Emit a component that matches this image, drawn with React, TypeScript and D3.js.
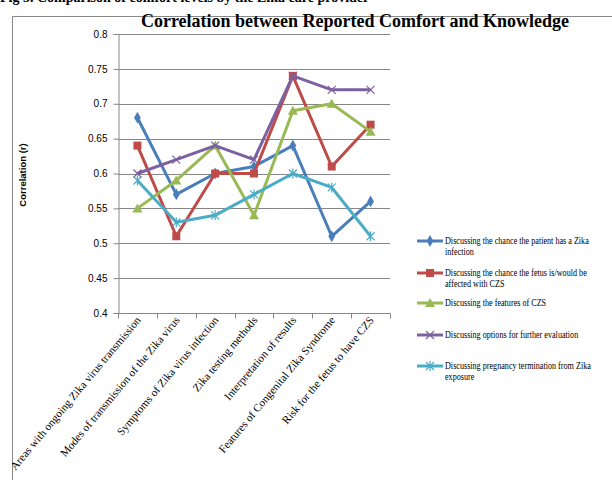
import * as d3 from 'd3';
import React, { useRef, useEffect } from 'react';

const categories = [
  'Areas with ongoing Zika virus transmission',
  'Modes of transmission of the Zika virus',
  'Symptoms of Zika virus infection',
  'Zika testing methods',
  'Interpretation of results',
  'Features of Congenital Zika Syndrome',
  'Risk for the fetus to have CZS',
];

const patientZika = [0.68, 0.57, 0.60, 0.61, 0.64, 0.51, 0.56];
const fetusCzs = [0.64, 0.51, 0.60, 0.60, 0.74, 0.61, 0.67];
const featuresCzs = [0.55, 0.59, 0.64, 0.54, 0.69, 0.70, 0.66];
const furtherEval = [0.60, 0.62, 0.64, 0.62, 0.74, 0.72, 0.72];
const termination = [0.59, 0.53, 0.54, 0.57, 0.60, 0.58, 0.51];

const yTicks = [0.4, 0.45, 0.5, 0.55, 0.6, 0.65, 0.7, 0.75, 0.8];

const series = [
  { lines: ['Discussing the chance the patient has a Zika', 'infection'], values: patientZika, color: '#4a7ebb', marker: 'diamond' },
  { lines: ['Discussing the chance the fetus is/would be', 'affected with CZS'], values: fetusCzs, color: '#be4b48', marker: 'square' },
  { lines: ['Discussing the features of CZS'], values: featuresCzs, color: '#98b954', marker: 'triangle' },
  { lines: ['Discussing options for further evaluation'], values: furtherEval, color: '#7d60a0', marker: 'x' },
  { lines: ['Discussing pregnancy termination from Zika', 'exposure'], values: termination, color: '#4bacc6', marker: 'star' },
];

const W = 612;
const H = 480;
const plot = { left: 118, right: 390, top: 34, bottom: 313 };
const legendY = [241, 273, 303, 335, 366];

function drawMarker(g: any, type: string, color: string) {
  if (type === 'diamond') {
    g.append('path').attr('d', d3.symbol(d3.symbolDiamond, 40)()).attr('fill', color);
  } else if (type === 'square') {
    g.append('rect').attr('x', -4).attr('y', -4).attr('width', 8).attr('height', 8).attr('fill', color);
  } else if (type === 'triangle') {
    g.append('path').attr('d', 'M0,-5L5,4L-5,4Z').attr('fill', color);
  } else if (type === 'x') {
    g.append('path').attr('d', 'M-4,-4L4,4M-4,4L4,-4').attr('stroke', color).attr('stroke-width', 1.2);
  } else {
    g.append('path').attr('d', 'M-4,-4L4,4M-4,4L4,-4M0,-5L0,5').attr('stroke', color).attr('stroke-width', 1.2);
  }
}

const App = () => {
  const ref = useRef<SVGSVGElement>(null);

  useEffect(() => {
    const svg = d3.select(ref.current);
    svg.selectAll('*').remove();

    const x = d3.scaleBand().domain(categories).range([plot.left, plot.right]);
    const y = d3.scaleLinear().domain([0.4, 0.8]).range([plot.bottom, plot.top]);

    // caption, cut off at the top as in the source page
    svg.append('text')
      .attr('x', 0).attr('y', 2)
      .attr('font-family', 'Liberation Serif').attr('font-weight', 'bold').attr('font-size', 14)
      .text('Fig 3. Comparison of comfort levels by the Zika care provider');

    // chart frame (left and top visible)
    svg.append('path').attr('d', `M12.5,${H + 5}V16.5H${W + 5}`)
      .attr('fill', 'none').attr('stroke', '#888').attr('stroke-width', 1);

    // gridlines
    svg.append('g').selectAll('line').data(yTicks.slice(1)).enter().append('line')
      .attr('x1', plot.left).attr('x2', plot.right)
      .attr('y1', (d) => Math.round(y(d)) + 0.5).attr('y2', (d) => Math.round(y(d)) + 0.5)
      .attr('stroke', '#868686');

    // y axis
    const yAxis = svg.append('g').attr('transform', `translate(${plot.left + 0.5},0)`)
      .call(d3.axisLeft(y).tickValues(yTicks).tickFormat(d3.format('')).tickSize(5).tickPadding(6));
    yAxis.select('.domain').attr('stroke', '#868686');
    yAxis.selectAll('line').attr('stroke', '#868686');
    yAxis.selectAll('text').attr('font-family', 'Liberation Sans').attr('font-size', 10).attr('fill', '#000');

    // x axis
    const xAxis = svg.append('g').attr('transform', `translate(0,${plot.bottom + 0.5})`);
    xAxis.append('line').attr('x1', plot.left).attr('x2', plot.right).attr('stroke', '#868686');
    const bounds = categories.map((c) => x(c) as number).concat([plot.right]);
    xAxis.selectAll('.tk').data(bounds).enter().append('line')
      .attr('x1', (d) => Math.round(d) + 0.5).attr('x2', (d) => Math.round(d) + 0.5)
      .attr('y1', 0).attr('y2', 5).attr('stroke', '#868686');
    xAxis.selectAll('text').data(categories).enter().append('text')
      .attr('transform', (d) => `translate(${(x(d) as number) + x.bandwidth() / 2 + 4},7) rotate(-50)`)
      .attr('text-anchor', 'end')
      .attr('font-family', 'Liberation Serif').attr('font-size', 11.2)
      .text((d) => d);

    // y title
    svg.append('text')
      .attr('transform', 'translate(26,175) rotate(-90)')
      .attr('text-anchor', 'middle')
      .attr('font-family', 'Liberation Sans').attr('font-weight', 'bold').attr('font-size', 9.5)
      .text('Correlation (r)');

    // title
    svg.append('text')
      .attr('x', 355).attr('y', 27)
      .attr('text-anchor', 'middle')
      .attr('font-family', 'Liberation Serif').attr('font-weight', 'bold').attr('font-size', 18)
      .text('Correlation between Reported Comfort and Knowledge');

    // lines and markers
    const line = d3.line<number>()
      .x((_, i) => (x(categories[i]) as number) + x.bandwidth() / 2)
      .y((d) => y(d));

    series.forEach((s) => {
      svg.append('path').datum(s.values)
        .attr('d', line)
        .attr('fill', 'none').attr('stroke', s.color).attr('stroke-width', 3)
        .attr('stroke-linejoin', 'round');
      s.values.forEach((v, i) => {
        const g = svg.append('g')
          .attr('transform', `translate(${(x(categories[i]) as number) + x.bandwidth() / 2},${y(v)})`);
        drawMarker(g, s.marker, s.color);
      });
    });

    // legend
    series.forEach((s, i) => {
      const ly = legendY[i];
      svg.append('line').attr('x1', 417).attr('x2', 443).attr('y1', ly).attr('y2', ly)
        .attr('stroke', s.color).attr('stroke-width', 3);
      const g = svg.append('g').attr('transform', `translate(430,${ly})`);
      drawMarker(g, s.marker, s.color);
      const tg = svg.append('g').attr('transform', `translate(445,${ly + 3}) scale(0.83,1)`);
      s.lines.forEach((t, j) => {
        tg.append('text')
          .attr('x', 0).attr('y', j * 11)
          .attr('font-family', 'Liberation Serif').attr('font-size', 9.8)
          .attr('fill', '#000')
          .text(t);
      });
    });
  }, []);

  return (
    <svg ref={ref} width={W} height={H} style={{ position: 'absolute', left: 0, top: 0, background: '#fff' }} />
  );
};

export default App;
